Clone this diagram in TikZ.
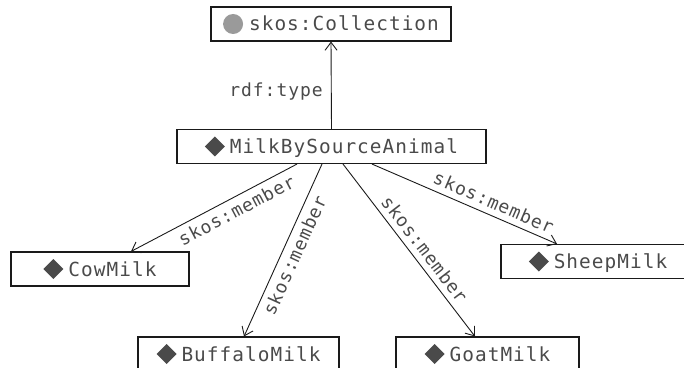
\documentclass[tikz,border=0pt]{standalone}
\usepackage{fontspec}
\setmonofont{DejaVu Sans Mono}[LetterSpace=5.4]
\usetikzlibrary{arrows.meta,calc}
\definecolor{txtcol}{HTML}{4A4A4A}
\definecolor{boxcol}{HTML}{1A1A1A}
\definecolor{diacol}{HTML}{4A4A4A}
\definecolor{circcol}{HTML}{9A9A9A}
\definecolor{linecol}{HTML}{1A1A1A}
\newcommand\boxfont{\fontsize{19.4}{22}\selectfont\ttfamily}
\newcommand\labfont{\fontsize{18}{20}\selectfont\ttfamily}
\newcommand\mydia{\tikz[baseline={(0pt,-7pt)}]\fill[diacol] (0pt,10pt)--(10pt,0pt)--(0pt,-10pt)--(-10pt,0pt)--cycle;}
\newcommand\mycirc{\tikz[baseline={(0pt,-7pt)}]\fill[circcol] (0pt,0pt) circle (10pt);}
\begin{document}
\begin{tikzpicture}[x=1pt,y=1pt,
  box/.style={draw=boxcol, line width=1.1pt, minimum height=34pt, inner sep=0pt,
    text height=14pt, text depth=0pt, font=\boxfont, text=txtcol},
  conn/.style={draw=linecol, line width=0.9pt, -{Straight Barb[length=8pt,width=12pt]}},
  lab/.style={font=\labfont, text=txtcol, sloped, inner xsep=0pt, inner ysep=6pt,
    text height=13pt, text depth=0pt}]
\useasboundingbox (0,0) rectangle (684,367);
\clip (0,0) rectangle (684,367);
\node[box, minimum width=240pt] (coll) at (331,343) {\mycirc\hspace{6pt}skos:Collection};
\node[box, minimum width=309pt] (mbsa) at (331.5,220.5) {\mydia\hspace{5pt}MilkBySourceAnimal};
\node[box, minimum width=178pt] (cow) at (100,98) {\mydia\hspace{5pt}CowMilk};
\node[box, minimum width=201pt] (buff) at (238.5,13) {\mydia\hspace{5pt}BuffaloMilk};
\node[box, minimum width=183pt] (goat) at (487.5,13) {\mydia\hspace{5pt}GoatMilk};
\node[box, minimum width=194pt] (sheep) at (598,105.5) {\mydia\hspace{5pt}SheepMilk};
\draw[conn] (mbsa.north) -- node[pos=0.45, anchor=east, inner sep=0pt, xshift=-8pt,
  font=\labfont, text=txtcol, text height=13pt, text depth=0pt] {rdf:type} (coll.south);
\draw[conn] ($(mbsa.south)+(-34.5,0)$) -- node[lab, anchor=north, pos=0.40] {skos:member} ($(cow.north)+(31,0)$);
\draw[conn] ($(mbsa.south)+(-9.5,0)$) -- node[lab, anchor=north, pos=0.50] {skos:member} ($(buff.north)+(5.5,0)$);
\draw[conn] ($(mbsa.south)+(11.5,0)$) -- node[lab, anchor=south, pos=0.54] {skos:member} ($(goat.north)+(-12.5,0)$);
\draw[conn] ($(mbsa.south)+(40.5,0)$) -- node[lab, anchor=south, pos=0.63] {skos:member} ($(sheep.north)+(-41,0)$);
\end{tikzpicture}
\end{document}
